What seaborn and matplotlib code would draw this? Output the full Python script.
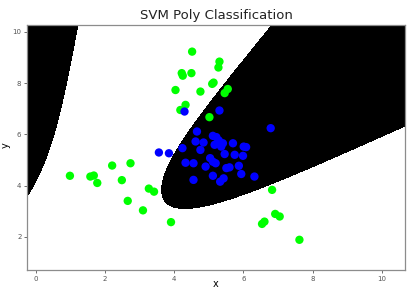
import numpy as np
import pandas as pd
import matplotlib
matplotlib.use("Agg")
import matplotlib.pyplot as plt
import seaborn as sns

title = "SVM Poly Classification"
x_label = "x"
y_label = "y"
x_ticks = [0, 2, 4, 6, 8, 10]
y_ticks = [2, 4, 6, 8, 10]
x_limits = [-0.25, 10.67]
y_limits = [0.70, 10.27]

# class "green" points
green_x = [4.52, 5.31, 5.28, 4.22, 4.25, 4.50, 5.10, 5.14, 4.04, 4.76, 5.46, 5.55,
           4.33, 4.18, 5.02,
           6.83, 6.92, 7.05, 6.54, 6.61, 7.62,
           0.99, 1.58, 1.68, 1.78, 2.21, 2.74, 2.49, 2.66, 3.27, 3.42, 3.10, 3.91]
green_y = [9.23, 8.84, 8.61, 8.39, 8.29, 8.39, 7.97, 8.02, 7.73, 7.67, 7.61, 7.77,
           7.15, 6.95, 6.67,
           3.83, 2.89, 2.79, 2.50, 2.59, 1.88,
           4.38, 4.35, 4.39, 4.10, 4.78, 4.87, 4.21, 3.40, 3.88, 3.76, 3.03, 2.57]

# class "blue" points
blue_x = [4.30, 5.31, 6.79, 4.66, 4.62, 4.85, 4.76, 5.12, 5.22, 5.29, 5.41, 5.36,
          5.17, 5.70, 6.01, 6.08, 5.46, 5.75, 5.99, 4.24, 5.04, 5.12, 4.33, 4.56,
          4.91, 5.20, 5.51, 5.60, 5.87, 5.94, 6.32, 4.56, 5.12, 5.33, 5.43, 3.56, 3.85]
blue_y = [6.89, 6.93, 6.24, 6.11, 5.72, 5.68, 5.39, 5.94, 5.89, 5.76, 5.65, 5.52,
          5.59, 5.65, 5.52, 5.50, 5.23, 5.20, 5.16, 5.46, 5.07, 4.93, 4.89, 4.87,
          4.74, 4.87, 4.68, 4.71, 4.77, 4.45, 4.35, 4.22, 4.38, 4.15, 4.28, 5.29, 5.26]

# decision boundary samples
edge_main_x = [6.82, 6.18, 5.55, 4.88, 4.25, 3.97, 3.77, 3.63, 3.68, 4.06, 4.54,
               5.22, 6.18, 7.05, 8.20, 8.68, 9.65, 10.61]
edge_main_y = [10.27, 9.17, 8.13, 6.95, 5.78, 5.13, 4.48, 3.70, 3.37, 3.20, 3.18,
               3.24, 3.63, 4.15, 4.87, 5.26, 5.78, 6.17]
edge_left_x = [1.19, 0.93, 0.69, 0.45, 0.21, -0.03, -0.25]
edge_left_y = [10.27, 8.00, 6.69, 5.72, 4.87, 4.15, 3.50]


def cubic_features(x, y):
    u = (np.asarray(x, float) - 5.0) / 5.0
    v = (np.asarray(y, float) - 5.0) / 5.0
    one = np.ones_like(u)
    zero = np.zeros_like(u)
    f = np.stack([one, u, v, u * u, u * v, v * v,
                  u ** 3, u * u * v, u * v * v, v ** 3], axis=-1)
    fu = np.stack([zero, one, zero, 2 * u, v, zero,
                   3 * u * u, 2 * u * v, v * v, zero], axis=-1)
    fv = np.stack([zero, zero, one, zero, u, 2 * v,
                   zero, u * u, 2 * u * v, 3 * v * v], axis=-1)
    return f, fu, fv


bx = np.array(edge_main_x + edge_left_x)
by = np.array(edge_main_y + edge_left_y)
A, Au, Av = cubic_features(bx, by)
w = np.ones(len(bx))
for _ in range(30):
    _, _, vt = np.linalg.svd(A * w[:, None])
    coef = vt[-1]
    grad2 = (Au @ coef) ** 2 + (Av @ coef) ** 2
    w = 1.0 / np.sqrt(np.maximum(grad2, 1e-9))
if (cubic_features([5.0], [5.0])[0] @ coef)[0] < 0:
    coef = -coef

gx, gy = np.meshgrid(np.linspace(x_limits[0], x_limits[1], 700),
                     np.linspace(y_limits[0], y_limits[1], 700))
Z = cubic_features(gx, gy)[0] @ coef

df = pd.DataFrame({
    "x": green_x + blue_x,
    "y": green_y + blue_y,
    "cls": ["green"] * len(green_x) + ["blue"] * len(blue_x),
})

fig = plt.figure(figsize=(4.18, 2.90), dpi=100)
ax = fig.add_axes([27 / 418, 1 - 270 / 290, 378 / 418, 245 / 290])
ax.contourf(gx, gy, Z, levels=[-1e9, 0, 1e9], colors=["white", "black"])
sns.scatterplot(data=df, x="x", y="y", hue="cls",
                palette={"green": "#00ff00", "blue": "#0000ff"},
                s=36, linewidth=0, legend=False, ax=ax)
ax.set_xlim(*x_limits)
ax.set_ylim(*y_limits)
ax.set_xticks(x_ticks)
ax.set_yticks(y_ticks)
ax.tick_params(labelsize=5, length=2, width=0.6, colors="#555555", pad=2)
for s in ax.spines.values():
    s.set_color("#8c8c8c")
    s.set_linewidth(0.9)
ax.set_title(title, fontsize=9.5, color="#222222", pad=4)
ax.set_xlabel(x_label, fontsize=7, labelpad=0)
ax.xaxis.set_label_coords(0.5, -0.038)
ax.set_ylabel(y_label, fontsize=7)
ax.yaxis.set_label_coords(-0.042, 0.51)
fig.savefig("out.png", dpi=100, facecolor="white")
